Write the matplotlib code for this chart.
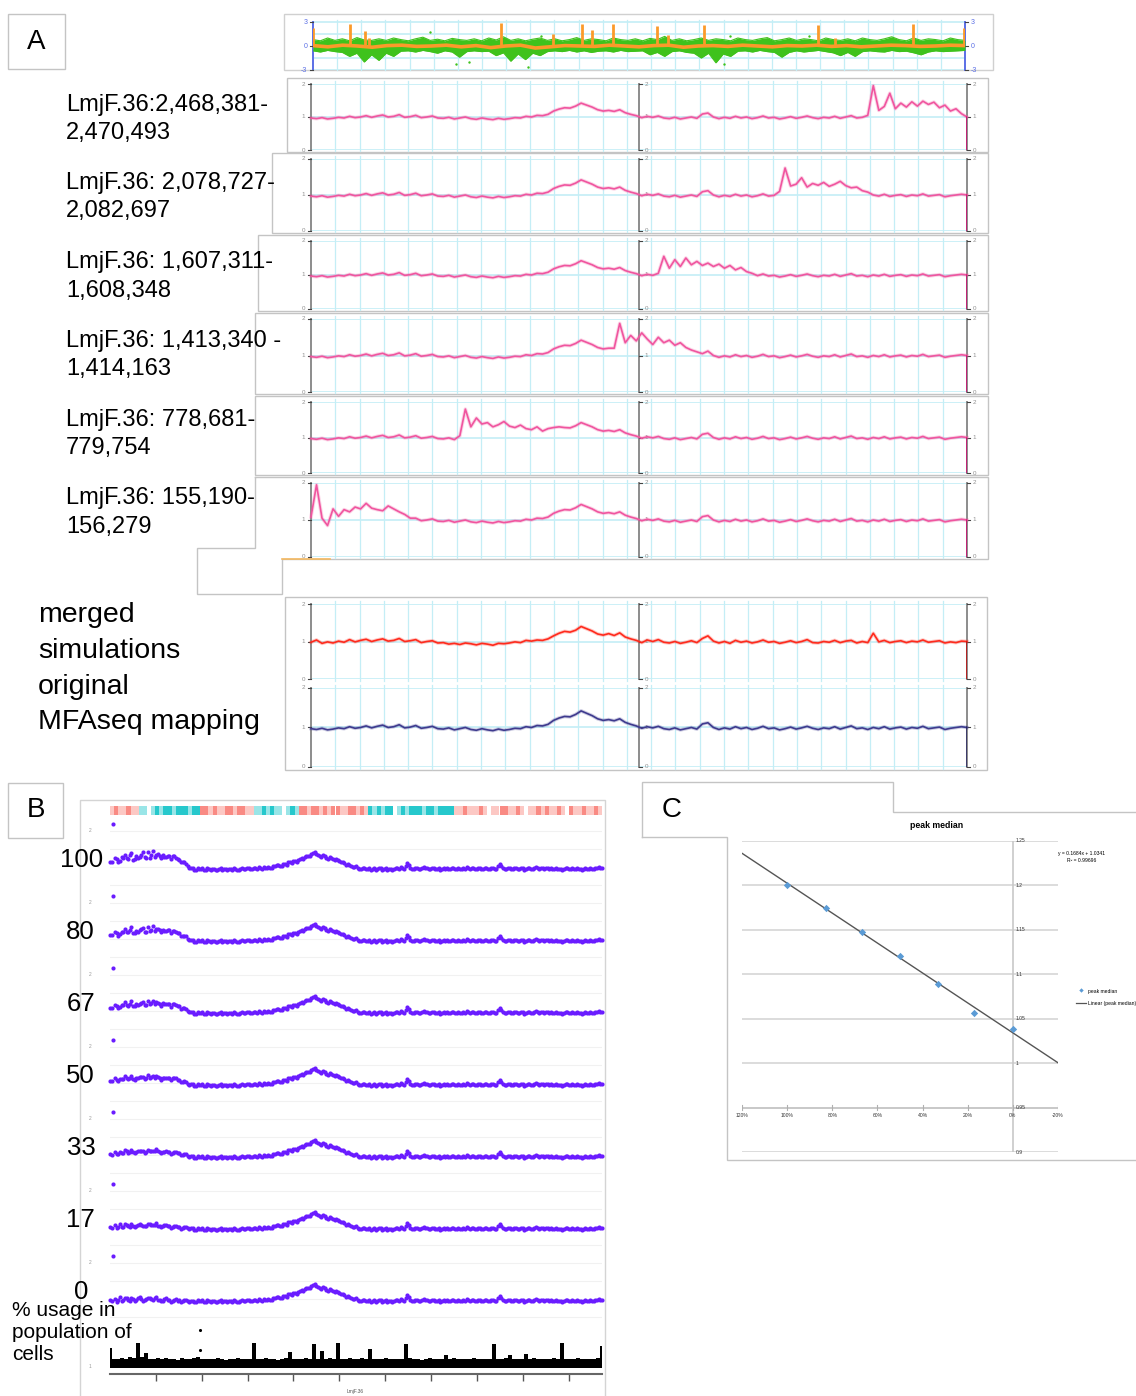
import numpy as np
import matplotlib
matplotlib.use("Agg")
import matplotlib.pyplot as plt
from matplotlib.patches import Rectangle

plt.rcParams['font.family'] = ['Liberation Sans', 'DejaVu Sans']

# ---------------------------------------------------------------- data
# Original MFAseq ratio profile of LmjF.36 (fraction of chromosome on x)
MFASEQ_ORIGINAL = [
    0.97, 0.95, 0.98, 0.94, 0.96, 0.99, 0.97, 1.02, 0.98, 1.00, 1.04, 0.99,
    1.03, 1.06, 1.00, 1.02, 1.07, 0.99, 1.01, 1.05, 0.98, 1.00, 1.03, 0.97,
    0.96, 0.99, 0.94, 0.97, 1.00, 0.95, 0.93, 0.97, 0.94, 0.92, 0.96, 0.93,
    0.95, 0.98, 0.97, 1.02, 1.00, 1.05, 1.04, 1.08, 1.18, 1.24, 1.28, 1.27,
    1.33, 1.42, 1.36, 1.30, 1.22, 1.18, 1.20, 1.17, 1.22, 1.13, 1.08, 1.04,
    0.98, 1.02, 0.99, 1.03, 0.97, 0.95, 0.99, 0.94, 0.97, 1.00, 0.96, 1.09,
    1.12, 1.00, 0.95, 0.99, 0.96, 1.02, 0.97, 1.00, 0.95, 0.98, 1.03, 0.97,
    0.99, 0.94, 0.97, 1.01, 0.96, 0.99, 1.03, 0.98, 0.95, 0.99, 0.97, 1.02,
    0.96, 1.00, 1.04, 0.97, 0.99, 0.95, 1.00, 0.97, 1.02, 0.96, 0.99, 1.01,
    0.96, 1.00, 0.98, 1.03, 0.97, 0.99, 1.01, 0.95, 0.98, 1.00, 1.02, 1.00,
]

# Merged simulations profile
MERGED_SIMULATIONS = [
    0.98, 1.04, 0.95, 0.99, 0.96, 1.01, 0.98, 1.05, 0.99, 1.03, 1.06, 1.00,
    1.04, 1.07, 1.01, 1.03, 1.08, 1.00, 1.02, 1.05, 0.97, 1.00, 1.02, 0.96,
    0.97, 0.93, 0.95, 0.92, 0.96, 0.94, 0.91, 0.95, 0.93, 0.90, 0.95, 0.94,
    0.96, 0.99, 0.97, 1.03, 1.01, 1.04, 1.03, 1.07, 1.15, 1.22, 1.27, 1.25,
    1.30, 1.40, 1.34, 1.28, 1.20, 1.17, 1.21, 1.16, 1.23, 1.12, 1.07, 1.03,
    0.97, 1.04, 1.00, 1.05, 0.98, 0.96, 1.00, 0.95, 0.98, 1.02, 0.97, 1.08,
    1.15, 1.01, 0.96, 1.00, 0.95, 1.03, 0.98, 1.01, 0.96, 0.99, 1.04, 0.98,
    1.00, 0.95, 0.98, 1.02, 0.97, 1.00, 1.05, 0.97, 0.96, 1.00, 0.98, 1.03,
    0.97, 1.01, 1.03, 0.96, 1.00, 0.97, 1.22, 0.99, 1.03, 0.97, 1.00, 1.02,
    0.97, 1.01, 0.99, 1.04, 0.98, 1.00, 1.02, 0.96, 0.99, 0.97, 1.01, 1.00,
]
TRACE_END = 0.0   # last bin of the chromosome

# Simulated single-origin profiles: label, first bin of the origin window, window values
SIM_LABELS = [
    ("LmjF.36:2,468,381-", "2,470,493"),
    ("LmjF.36: 2,078,727-", "2,082,697"),
    ("LmjF.36: 1,607,311-", "1,608,348"),
    ("LmjF.36: 1,413,340 -", "1,414,163"),
    ("LmjF.36: 778,681-", "779,754"),
    ("LmjF.36: 155,190-", "156,279"),
]
SIM_START = [101, 85, 63, 55, 27, 0]
SIM_WINDOW = [
    [1.05, 1.95, 1.20, 1.32, 1.72, 1.25, 1.42, 1.30, 1.46, 1.33, 1.48, 1.38,
     1.45, 1.28, 1.36, 1.18, 1.25, 1.10],
    [1.10, 1.75, 1.25, 1.30, 1.48, 1.22, 1.32, 1.27, 1.35, 1.24, 1.30, 1.38,
     1.26, 1.20, 1.22, 1.12, 1.08],
    [1.05, 1.55, 1.20, 1.45, 1.25, 1.50, 1.30, 1.40, 1.28, 1.35, 1.25, 1.32,
     1.20, 1.28, 1.15, 1.22, 1.10, 1.05],
    [1.20, 1.88, 1.35, 1.55, 1.40, 1.62, 1.45, 1.30, 1.50, 1.35, 1.42, 1.28,
     1.35, 1.22, 1.15, 1.10, 1.05],
    [1.05, 1.80, 1.30, 1.55, 1.38, 1.42, 1.30, 1.36, 1.45, 1.32, 1.28, 1.35,
     1.25, 1.22, 1.30, 1.18, 1.25, 1.28, 1.30],
    [1.08, 1.95, 1.05, 0.85, 1.30, 1.10, 1.28, 1.22, 1.35, 1.30, 1.45, 1.32,
     1.28, 1.25, 1.38, 1.30, 1.22, 1.15, 1.05],
]

# Whole-chromosome overview strip (log ratio, green) and origin calls (orange)
GREEN_UPPER = [
    0.8, 0.65, 1.0, 0.7, 0.9, 0.65, 1.05, 0.75, 0.7, 0.9,
    0.7, 1.0, 0.8, 0.65, 0.9, 1.1, 0.7, 0.85, 0.65, 0.95,
    0.8, 0.7, 0.9, 0.65, 1.0, 0.75, 1.15, 0.7, 0.9, 0.65,
    0.85, 1.0, 0.7, 0.9, 0.65, 0.8, 1.05, 0.7, 0.9, 0.8,
    0.65, 1.0, 0.8, 0.7, 0.9, 0.65, 0.95, 0.8, 1.2, 0.7,
    0.9, 0.65, 0.8, 1.0, 0.7, 0.9, 0.8, 0.65, 1.0, 0.8,
    0.7, 0.9, 1.05, 0.65, 0.8, 1.0, 0.7, 0.9, 0.8, 0.65,
    1.0, 0.8, 0.7, 0.9, 0.65, 1.0, 0.8, 0.7, 0.9, 1.15,
    0.8, 0.65, 1.0, 0.7, 0.9, 0.8, 0.65, 1.0, 0.8, 0.7,
]
GREEN_LOWER = [
    -0.6, -0.75, -0.55, -0.7, -0.8, -1.3, -0.9, -2.0, -1.1, -1.8,
    -0.9, -1.3, -0.65, -0.6, -0.75, -0.55, -0.7, -0.9, -0.6, -0.75,
    -1.4, -0.7, -0.6, -0.7, -0.65, -1.2, -0.85, -1.9, -1.0, -1.7,
    -0.9, -1.2, -0.7, -0.6, -0.7, -0.55, -0.75, -0.6, -0.8, -0.65,
    -0.6, -0.75, -0.55, -0.7, -0.65, -0.6, -1.1, -0.8, -1.3, -0.7,
    -0.6, -0.8, -0.9, -1.5, -0.9, -2.1, -1.0, -1.3, -0.65, -0.6,
    -0.75, -0.55, -0.7, -0.8, -1.4, -0.8, -0.6, -0.75, -0.65, -0.55,
    -0.7, -0.85, -1.2, -0.8, -1.3, -0.7, -0.6, -0.7, -0.75, -0.55,
    -0.7, -0.65, -0.85, -1.1, -0.75, -0.6, -0.7, -0.65, -0.6, -0.55,
]
GREEN_OUTLIER_POS = [0.18, 0.22, 0.24, 0.33, 0.63, 0.64, 0.76, 0.35]
GREEN_OUTLIER_VAL = [1.7, -2.2, -2.0, -2.6, -2.3, 1.3, 1.2, 1.3]
ORANGE_LEVEL = [
    0.05, -0.1, 0.1, 0.0, -0.15, 0.05, 0.1, -0.05, 0.0, 0.1, -0.1, 0.05,
    -0.2, 0.0, 0.1, -0.25, -0.1, 0.05, 0.0, -0.05, 0.1, 0.0, -0.1, 0.05,
    0.1, -0.15, 0.0, 0.05, -0.05, 0.1, 0.0, -0.1, 0.05, 0.0, 0.1, -0.05,
    0.05, -0.1, 0.0, 0.1, 0.05, -0.05, 0.0, 0.1, 0.05,
]
ORANGE_SPIKE_POS = [0.0, 0.057, 0.079, 0.086, 0.289, 0.368, 0.412, 0.428,
                    0.460, 0.527, 0.544, 0.600, 0.775, 0.800, 0.921, 0.999]
ORANGE_SPIKE_HEIGHT = [2.3, 2.7, 1.85, 1.0, 2.85, 1.55, 2.7, 2.0,
                       2.7, 2.5, 1.4, 2.6, 2.6, 1.0, 2.7, 2.3]

# Panel B: simulated MFAseq at different origin usage levels
CHROM_KB = 2682
TICK_STEP_KB = 250
USAGE_PCT = [100, 80, 67, 50, 33, 17, 0]
BASE_B = [
    0.98, 2.20, 0.92, 1.05, 0.96, 1.02, 0.94, 1.00, 0.97, 1.04, 0.95, 0.99,
    1.03, 0.96, 1.06, 0.98, 0.95, 1.01, 0.97, 0.94, 0.99, 0.96, 0.93, 0.97,
    0.92, 0.95, 0.91, 0.94, 0.96, 0.92, 0.95, 0.93, 0.90, 0.94, 0.92, 0.95,
    0.93, 0.91, 0.95, 0.92, 0.96, 0.94, 0.97, 0.93, 0.96, 0.99, 0.95, 0.98,
    1.00, 0.97, 1.02, 1.05, 1.03, 1.08, 1.12, 1.10, 1.16, 1.20, 1.24, 1.27,
    1.31, 1.36, 1.42, 1.34, 1.28, 1.30, 1.22, 1.25, 1.18, 1.20, 1.14, 1.10,
    1.08, 1.03, 1.00, 0.97, 0.94, 0.98, 0.95, 0.92, 0.96, 0.93, 0.97, 0.94,
    0.92, 0.95, 0.93, 0.96, 0.99, 0.95, 1.10, 0.98, 0.94, 0.97, 0.95, 0.99,
    0.96, 0.93, 0.97, 0.95, 0.92, 0.96, 0.98, 0.94, 0.97, 0.95, 0.93, 0.96,
    0.99, 0.95, 0.97, 0.94, 0.96, 0.93, 0.97, 0.95, 0.98, 0.94, 1.09, 0.96,
    0.94, 0.97, 0.95, 0.98, 0.93, 0.96, 0.94, 0.97, 0.95, 0.99, 0.94, 0.96,
    0.98, 0.95, 0.93, 0.97, 0.95, 0.92, 0.96, 0.94, 0.97, 0.93, 0.95, 0.92,
    0.96, 0.94, 0.93, 0.97, 1.00, 0.98,
]
# Second bin set, lying between consecutive BASE_B bins
BASE_B_MID = [
    0.94, 1.00, 0.97, 0.93, 1.03, 0.97, 1.01, 0.95, 1.02, 0.99, 0.96, 1.01,
    0.99, 1.02, 0.97, 0.94, 0.99, 0.96, 0.92, 0.98, 0.95, 0.91, 0.96, 0.94,
    0.95, 0.92, 0.96, 0.93, 0.90, 0.96, 0.91, 0.95, 0.92, 0.96, 0.93, 0.91,
    0.94, 0.96, 0.91, 0.95, 0.93, 0.97, 0.94, 0.98, 0.95, 0.97, 1.00, 0.96,
    0.98, 1.01, 1.04, 1.01, 1.07, 1.06, 1.13, 1.15, 1.14, 1.22, 1.21, 1.30,
    1.29, 1.38, 1.36, 1.31, 1.33, 1.25, 1.27, 1.21, 1.23, 1.16, 1.12, 1.06,
    1.05, 0.99, 1.01, 0.95, 0.97, 0.93, 0.97, 0.94, 0.92, 0.96, 0.92, 0.96,
    0.94, 0.91, 0.97, 0.94, 0.97, 1.03, 1.04, 0.95, 0.96, 0.93, 0.98, 0.96,
    0.94, 0.96, 0.93, 0.97, 0.94, 0.93, 0.95, 0.97, 0.93, 0.96, 0.95, 0.94,
    0.97, 0.98, 0.93, 0.96, 0.95, 0.96, 0.94, 0.97, 0.95, 1.02, 1.01, 0.94,
    0.96, 0.93, 0.97, 0.95, 0.96, 0.92, 0.97, 0.94, 0.98, 0.96, 0.97, 0.93,
    0.96, 0.97, 0.95, 0.94, 0.93, 0.95, 0.97, 0.93, 0.95, 0.96, 0.93, 0.95,
    0.93, 0.96, 0.95, 0.98, 0.96,
]
# Extra signal of the early origin at 100 % usage (first bins of each set)
ORIGIN_B = [0.15, 0.0, 0.30, 0.10, 0.28, 0.22, 0.38, 0.20, 0.32, 0.24, 0.45, 0.26,
            0.22, 0.48, 0.28, 0.32, 0.38, 0.27, 0.33, 0.36, 0.26, 0.24, 0.20, 0.12,
            0.06, 0.02]
ORIGIN_B_MID = [0.20, 0.25, 0.15, 0.33, 0.30, 0.26, 0.38, 0.28, 0.22, 0.34, 0.30,
                0.40, 0.33, 0.25, 0.38, 0.30, 0.28, 0.35, 0.29, 0.31, 0.27, 0.22,
                0.16, 0.08, 0.03]
# Origin usage track (bars) along the chromosome
BAR_HEIGHT = [
    0.62, 0.30, 0.28, 0.33, 0.29, 0.35, 0.31, 0.78, 0.34, 0.46, 0.30, 0.27,
    0.31, 0.29, 0.33, 0.28, 0.30, 0.26, 0.32, 0.29, 0.27, 0.31, 0.36, 0.28,
    0.30, 0.27, 0.29, 0.33, 0.28, 0.26, 0.30, 0.28, 0.31, 0.27, 0.29, 0.30,
    0.80, 0.29, 0.27, 0.31, 0.28, 0.30, 0.26, 0.29, 0.32, 0.50, 0.28, 0.30,
    0.27, 0.31, 0.29, 0.76, 0.30, 0.55, 0.28, 0.31, 0.27, 0.79, 0.30, 0.28,
    0.32, 0.27, 0.29, 0.31, 0.28, 0.60, 0.30, 0.27, 0.29, 0.33, 0.28, 0.30,
    0.27, 0.29, 0.76, 0.31, 0.28, 0.30, 0.26, 0.29, 0.31, 0.28, 0.30, 0.27,
    0.42, 0.29, 0.31, 0.28, 0.30, 0.27, 0.29, 0.32, 0.28, 0.30, 0.27, 0.29,
    0.76, 0.30, 0.28, 0.31, 0.42, 0.29, 0.27, 0.30, 0.45, 0.28, 0.31, 0.29,
    0.27, 0.30, 0.28, 0.31, 0.29, 0.80, 0.30, 0.27, 0.29, 0.31, 0.28, 0.30,
    0.27, 0.29, 0.31, 0.70,
]
BAR_OUTLIER_KB = [488, 488]
BAR_OUTLIER_VAL = [1.2, 0.57]
# Early/late replication class along the chromosome (R = early, C = late;
# upper case strong, lower case weak, '.' gap)
TIMING_CLASS = ("rRrrRrr" "cc.c" "CcCCcCCCcCC" "RRrRrrRRrRRrr" "ccCcCcc.cCc"
                "RRrRRrRrRRrrRRrRr" "CcCcCC.cCcCCCcCCcCCCC"
                "rrRrrrRr.rrRRrrRr.rrRrRrrRr.RrrRrrRr")

# Panel C: peak median against origin usage
PEAK_USAGE = [1.00, 0.83, 0.67, 0.50, 0.33, 0.17, 0.00]
PEAK_MEDIAN = [1.201, 1.175, 1.148, 1.121, 1.089, 1.056, 1.038]
TREND_SLOPE = 0.1684
TREND_INTERCEPT = 1.0341
TREND_R2 = 0.99696

# ---------------------------------------------------------------- styles
PINK = '#f0559f'
PINK_END = '#d1006d'
RED = '#ff2a1c'
NAVY = '#3e3a8e'
PURPLE = '#6a1cff'
GREEN = '#3fc21c'
ORANGE = '#fb9a2a'
AXIS_BLUE = '#5b6fe6'
GRID_CYAN = '#c4eef6'
BOX_GRAY = '#c4c4c4'
AX_GRAY = '#8c8c8c'

W, H = 1136, 1396
fig = plt.figure(figsize=(W / 100, H / 100), dpi=100)


def rect_axes(x0, y0, x1, y1):
    ax = fig.add_axes([x0 / W, 1 - y1 / H, (x1 - x0) / W, (y1 - y0) / H])
    ax.set_facecolor('none')
    for s in ax.spines.values():
        s.set_visible(False)
    ax.set_xticks([])
    ax.set_yticks([])
    return ax


canvas = rect_axes(0, 0, W, H)
canvas.set_xlim(0, W)
canvas.set_ylim(H, 0)
canvas.axis('off')


def box(x0, y0, x1, y1, color=BOX_GRAY, lw=1.0):
    canvas.add_patch(Rectangle((x0, y0), x1 - x0, y1 - y0, fill=False,
                               edgecolor=color, lw=lw))


def poly(xs, ys, color=BOX_GRAY, lw=1.0):
    canvas.plot(xs, ys, color=color, lw=lw, solid_joinstyle='miter')


# ---------------------------------------------------------------- outlines
box(8, 14, 65, 69)
canvas.text(36, 42, 'A', fontsize=20, ha='center', va='center')
box(284, 14, 993, 70, color='#d0d0d0')

PANEL_BOXES = [(287, 78, 988, 152), (272, 153, 988, 233), (258, 235, 988, 311),
               (255, 313, 988, 394), (255, 396, 988, 475)]
for b in PANEL_BOXES:
    box(*b)
poly([255, 988, 988, 282, 282, 197, 197, 255, 255],
     [477, 477, 559, 559, 594, 594, 548, 548, 477])
canvas.plot([282, 330], [559, 559], color='#f4b860', lw=1.2)
box(285, 597, 987, 770)

box(8, 783, 63, 838)
canvas.text(36, 810, 'B', fontsize=20, ha='center', va='center')
poly([80, 80, 605, 605], [1396, 800, 800, 1396], color='#d4d4d4')

poly([642, 642, 893, 893, 1136], [837, 782, 782, 812, 812])
poly([642, 727, 727, 1136], [837, 837, 1160, 1160])
canvas.text(672, 810, 'C', fontsize=20, ha='center', va='center')


# ---------------------------------------------------------------- panel A
def grid_and_axes(ax, ymin, ymax, hlines, tick_vals, tick_labels, axis_color,
                  axis_x, label_color, fs=4.5):
    for k in range(1, 27):
        ax.plot([k / 27, k / 27], [ymin, ymax], color=GRID_CYAN, lw=0.9,
                zorder=0, clip_on=False)
    for v in hlines:
        ax.plot([0, 1], [v, v], color=GRID_CYAN, lw=1.2, zorder=0)
    for xa, side in axis_x:
        ax.plot([xa, xa], [tick_vals[0], tick_vals[-1]], color=axis_color,
                lw=1.4, zorder=3, clip_on=False)
        for v, t in zip(tick_vals, tick_labels):
            d = -0.004 if side == 'left' else 0.004
            ax.plot([xa, xa + d], [v, v], color='#444444', lw=0.8, zorder=3,
                    clip_on=False)
            ax.text(xa + 2.2 * d, v, t, fontsize=fs, color=label_color,
                    ha='right' if side == 'left' else 'left', va='center',
                    clip_on=False)


def trace_panel(y2, y0, values, color, end_color):
    ax = rect_axes(311, y2, 967, y0)
    ax.set_xlim(0, 1)
    ax.set_ylim(0, 2)
    grid_and_axes(ax, -0.04, 2.08, [0, 1, 2], [0, 1, 2], ['0', '1', '2'],
                  AX_GRAY, [(0, 'left'), (0.5, 'right'), (1, 'right')], '#909090')
    x = np.linspace(0, 1, len(values))
    ax.plot(x, values, color=color, lw=2.6, alpha=0.25, zorder=4, clip_on=False)
    ax.plot(x, values, color=color, lw=1.2, zorder=5, clip_on=False)
    ax.plot([1, 1], [values[-1], TRACE_END], color=end_color, lw=1.8, zorder=6)
    return ax


PANEL_Y = [(84, 150), (159, 231), (241, 309), (319, 392), (402, 473), (483, 557)]
LABEL_Y = [(105, 133), (183, 211), (262, 291), (341, 369), (420, 448), (498, 527)]
for (y2, y0), (l1, l2), (t1, t2), start, window in zip(
        PANEL_Y, SIM_LABELS, LABEL_Y, SIM_START, SIM_WINDOW):
    vals = list(MFASEQ_ORIGINAL)
    vals[start:start + len(window)] = window
    trace_panel(y2, y0, vals, PINK, PINK_END)
    canvas.text(66, t1, l1, fontsize=17, va='center', ha='left')
    canvas.text(66, t2, l2, fontsize=17, va='center', ha='left')

trace_panel(604, 679, MERGED_SIMULATIONS, RED, '#c00000')
trace_panel(688, 767, MFASEQ_ORIGINAL, NAVY, '#23205e')
for txt, y in zip(['merged', 'simulations', 'original', 'MFAseq mapping'],
                  [615, 651, 687, 722]):
    canvas.text(38, y, txt, fontsize=20.5, va='center', ha='left')

# overview strip
ov = rect_axes(313, 14, 965, 70)
ov.set_xlim(0, 1)
ov.set_ylim(-3, 4)
grid_and_axes(ov, -3, 3.2, [-3, -1.5, 0, 1.5, 3], [-3, 0, 3], ['-3', '0', '3'],
              AXIS_BLUE, [(0, 'left'), (1, 'right')], AXIS_BLUE, fs=5)
xg = np.linspace(0, 1, len(GREEN_UPPER))
ov.fill_between(xg, GREEN_LOWER, GREEN_UPPER, color=GREEN, lw=0, zorder=4)
ov.plot(xg, GREEN_UPPER, color=GREEN, lw=0.8, zorder=4)
ov.plot(xg, GREEN_LOWER, color=GREEN, lw=0.8, zorder=4)
ov.scatter(GREEN_OUTLIER_POS, GREEN_OUTLIER_VAL, s=3, color=GREEN, lw=0, zorder=4)
xo = np.linspace(0, 1, len(ORANGE_LEVEL))
ov.plot(xo, ORANGE_LEVEL, color=ORANGE, lw=2.6, zorder=5)
ov.vlines(ORANGE_SPIKE_POS, 0, ORANGE_SPIKE_HEIGHT, color=ORANGE, lw=2.0, zorder=5)

# ---------------------------------------------------------------- panel B
band = rect_axes(110, 806, 602, 815)
band.set_xlim(0, CHROM_KB)
band.set_ylim(0, 1)
seg_w = CHROM_KB / len(TIMING_CLASS)
for k, c in enumerate(TIMING_CLASS):
    if c == '.':
        continue
    col = '#f8766d' if c.lower() == 'r' else '#00bfc4'
    alpha = 0.85 if c.isupper() else 0.4
    band.bar(k * seg_w, 1, width=seg_w, align='edge', color=col, alpha=alpha, lw=0)

x_b = np.linspace(0, CHROM_KB, len(BASE_B))
x_mid = (x_b[:-1] + x_b[1:]) / 2
origin_full = np.zeros(len(BASE_B))
origin_full[:len(ORIGIN_B)] = ORIGIN_B
origin_mid = np.zeros(len(BASE_B_MID))
origin_mid[:len(ORIGIN_B_MID)] = ORIGIN_B_MID
ROW_LABEL_X = [103, 95, 95, 95, 96, 95, 88]
for i, usage in enumerate(USAGE_PCT):
    top = 820 + 72 * i
    ax = rect_axes(110, top, 602, top + 72)
    ax.set_xlim(0, CHROM_KB)
    ax.set_ylim(0.3, 2.3)
    for v in (0.5, 1.0, 1.5, 2.0):
        ax.axhline(v, color='#f1f1f1', lw=0.8, zorder=0)
    vals = np.array(BASE_B) + usage / 100 * origin_full
    vals_mid = np.array(BASE_B_MID) + usage / 100 * origin_mid
    ax.scatter(x_b, vals, s=9, color=PURPLE, lw=0, zorder=3, clip_on=False)
    ax.scatter(x_mid, vals_mid, s=9, color=PURPLE, lw=0, zorder=3, clip_on=False)
    canvas.text(90, top + 11, '2', fontsize=3.5, color='#999999',
                ha='center', va='center')
    canvas.text(ROW_LABEL_X[i], top + 40, str(usage), fontsize=18.5,
                ha='right', va='center')

canvas.text(12, 1333, '% usage in\npopulation of\ncells', fontsize=15,
            ha='left', va='center', linespacing=1.2)

bars = rect_axes(110, 1330, 602, 1368)
bars.set_xlim(0, CHROM_KB)
bars.set_ylim(0, 1.2)
xbar = np.linspace(0, CHROM_KB, len(BAR_HEIGHT))
bars.bar(xbar, BAR_HEIGHT, width=CHROM_KB / len(BAR_HEIGHT) * 0.9,
         color='black', lw=0)
bars.scatter(BAR_OUTLIER_KB, BAR_OUTLIER_VAL, s=5, color='black', lw=0,
             clip_on=False)
bars.spines['bottom'].set_visible(True)
bars.spines['bottom'].set_position(('outward', 4))
bars.spines['bottom'].set_color('#666666')
bars.spines['bottom'].set_linewidth(1.5)
bars.set_xticks(np.arange(TICK_STEP_KB, CHROM_KB, TICK_STEP_KB))
bars.set_xticklabels([])
bars.tick_params(axis='x', length=5, width=1, color='#555555', direction='out')
canvas.text(90, 1367, '1', fontsize=3.5, color='#999999', ha='center', va='center')
canvas.text(355, 1392, 'LmjF.36', fontsize=3.5, color='#555555', ha='center',
            va='center')

# ---------------------------------------------------------------- panel C
pc = rect_axes(742, 841, 1058, 1152)
pc.set_xlim(1.2, -0.2)
pc.set_ylim(0.9, 1.25)
y_grid = [0.9, 1.0, 1.05, 1.1, 1.15, 1.2, 1.25]
for v in y_grid:
    pc.axhline(v, color='#d6d6d6', lw=1.2, zorder=0)
pc.axhline(0.95, color='#c8c8c8', lw=1.4, zorder=1)
pc.plot([0, 0], [0.9, 1.25], color='#c8c8c8', lw=1.2, zorder=1)
for xv in np.arange(-0.2, 1.21, 0.2):
    pc.plot([xv, xv], [0.947, 0.953], color='#b0b0b0', lw=0.8, zorder=1)
    pc.text(xv, 0.944, f'{xv * 100:.0f}%', fontsize=3.6, ha='center', va='top',
            color='#333333')
for v in [0.9, 0.95, 1.0, 1.05, 1.1, 1.15, 1.2, 1.25]:
    pc.text(-0.012, v, f'{v:g}', fontsize=3.6, ha='left', va='center',
            color='#333333')
line_x = np.array([1.2, -0.2])
pc.plot(line_x, TREND_SLOPE * line_x + TREND_INTERCEPT, color='#555555', lw=1.0,
        zorder=3)
pc.scatter(PEAK_USAGE, PEAK_MEDIAN, marker='D', s=14, color='#5b9bd5',
           lw=0, zorder=4)
canvas.text(937, 826, 'peak median', fontsize=6.3, fontweight='bold',
            ha='center', va='center')
canvas.text(1082, 854, f'y = {TREND_SLOPE}x + {TREND_INTERCEPT}',
            fontsize=3.6, ha='center', va='center')
canvas.text(1082, 861, f'R² = {TREND_R2}', fontsize=3.6, ha='center',
            va='center')
canvas.scatter([1081], [990], marker='D', s=5, color='#5b9bd5', lw=0)
canvas.text(1088, 991, 'peak median', fontsize=3.6, ha='left', va='center')
canvas.plot([1076, 1086], [1003, 1003], color='#555555', lw=0.9)
canvas.text(1088, 1003, 'Linear (peak median)', fontsize=3.6, ha='left',
            va='center', clip_on=True)

fig.savefig('out.png', dpi=100)
